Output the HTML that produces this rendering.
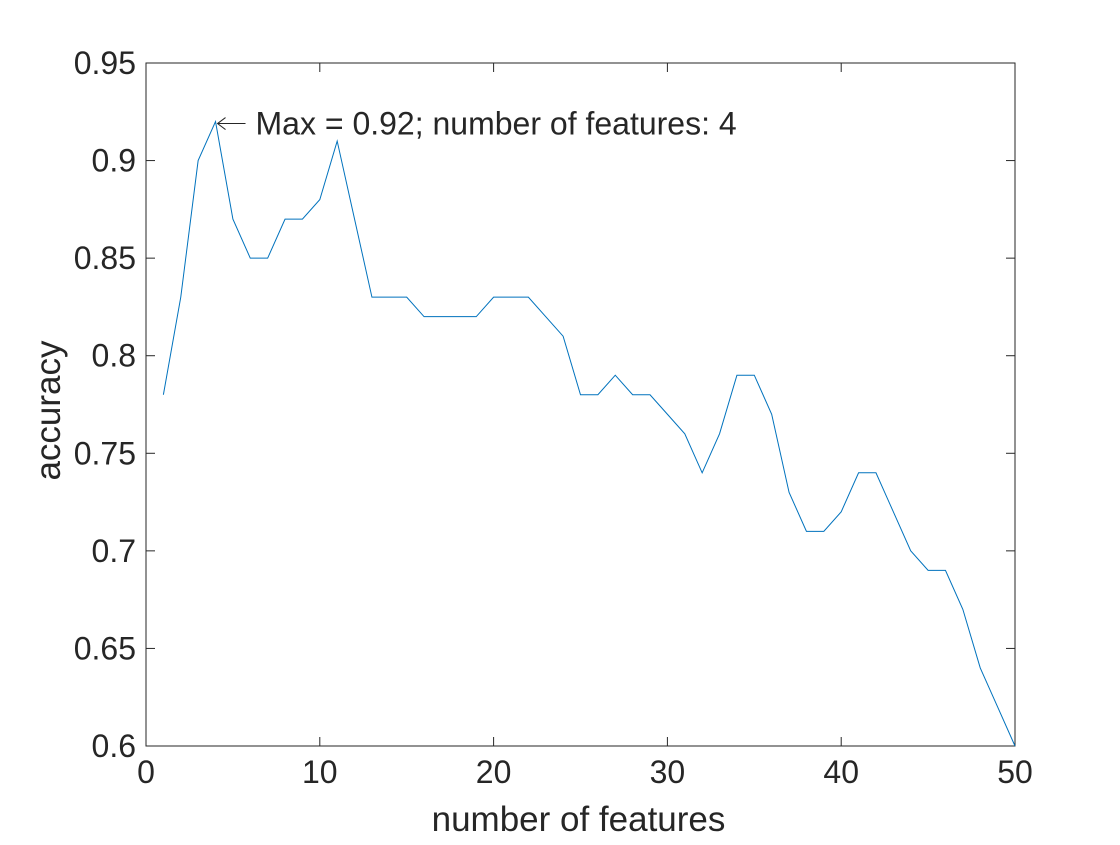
<!DOCTYPE html>
<html><head><meta charset="utf-8"><style>
body{margin:0;background:#fff;}
svg text{font-family:"Liberation Sans",sans-serif;fill:#262626;}
</style></head><body>
<svg id="chart" width="1120" height="840" xmlns="http://www.w3.org/2000/svg"></svg>
<script>
const xs = [1,2,3,4,5,6,7,8,9,10,11,12,13,14,15,16,17,18,19,20,21,22,23,24,25,26,27,28,29,30,31,32,33,34,35,36,37,38,39,40,41,42,43,44,45,46,47,48,49,50];
const acc = [0.78,0.83,0.90,0.92,0.87,0.85,0.85,0.87,0.87,0.88,0.91,0.87,0.83,0.83,0.83,0.82,0.82,0.82,0.82,0.83,0.83,0.83,0.82,0.81,0.78,0.78,0.79,0.78,0.78,0.77,0.76,0.74,0.76,0.79,0.79,0.77,0.73,0.71,0.71,0.72,0.74,0.74,0.72,0.70,0.69,0.69,0.67,0.64,0.62,0.60];
const xTicks = [0,10,20,30,40,50];
const yTicks = [0.6,0.65,0.7,0.75,0.8,0.85,0.9,0.95];
const yTickLabels = ["0.6","0.65","0.7","0.75","0.8","0.85","0.9","0.95"];
const L=146,R=1015,T=63,B=746;
const X=v=>L+(v-0)/(50-0)*(R-L);
const Y=v=>B-(v-0.6)/(0.95-0.6)*(B-T);
const svg=document.getElementById('chart');
const NS="http://www.w3.org/2000/svg";
function mk(tag,attrs,name){const e=document.createElementNS(NS,tag);for(const k in attrs)e.setAttribute(k,attrs[k]);


svg.appendChild(e);return e;}
mk('rect',{x:L,y:T,width:R-L,height:B-T,fill:'#fff',stroke:'#262626','stroke-width':1},'plot-area');
xTicks.forEach(t=>{const x=X(t);
mk('line',{x1:x,y1:B,x2:x,y2:B-9,stroke:'#262626'},'x-tick');
mk('line',{x1:x,y1:T,x2:x,y2:T+9,stroke:'#262626'},'x-tick-top');
const tx=mk('text',{x:x,y:B+37,'font-size':32,'text-anchor':'middle'},'x-tick-label');tx.textContent=t;});
yTicks.forEach((t,i)=>{const y=Y(t);
mk('line',{x1:L,y1:y,x2:L+9,y2:y,stroke:'#262626'},'y-tick');
mk('line',{x1:R,y1:y,x2:R-9,y2:y,stroke:'#262626'},'y-tick-right');
const tx=mk('text',{x:L-10,y:y+11,'font-size':32,'text-anchor':'end'},'y-tick-label');tx.textContent=yTickLabels[i];});
const xl=mk('text',{x:(L+R)/2-2,y:831,'font-size':35,'text-anchor':'middle'},'x-axis-title');xl.textContent='number of features';
const yl=mk('text',{x:54,y:(T+B)/2,'font-size':35,'text-anchor':'middle',transform:`rotate(-90 60 ${(T+B)/2})`},'y-axis-title');yl.textContent='accuracy';
mk('polyline',{points:xs.map((v,i)=>X(v)+','+Y(acc[i])).join(' '),fill:'none',stroke:'#0072BD','stroke-width':1},'accuracy-line');
let mi=0;acc.forEach((v,i)=>{if(v>acc[mi])mi=i;});
const mx=X(xs[mi]),my=Y(acc[mi]);
mk('line',{x1:mx+2,y1:my+2,x2:mx+30,y2:my+2,stroke:'#262626'},'annotation-arrow');
mk('polyline',{points:`${mx+10},${my-4} ${mx+2},${my+2} ${mx+10},${my+8}`,fill:'none',stroke:'#262626'},'annotation-arrowhead');
const an=mk('text',{x:mx+40,y:my+13,'font-size':32},'max-annotation');an.textContent='Max = '+acc[mi].toFixed(2)+'; number of features: '+xs[mi];
</script>
</body></html>
